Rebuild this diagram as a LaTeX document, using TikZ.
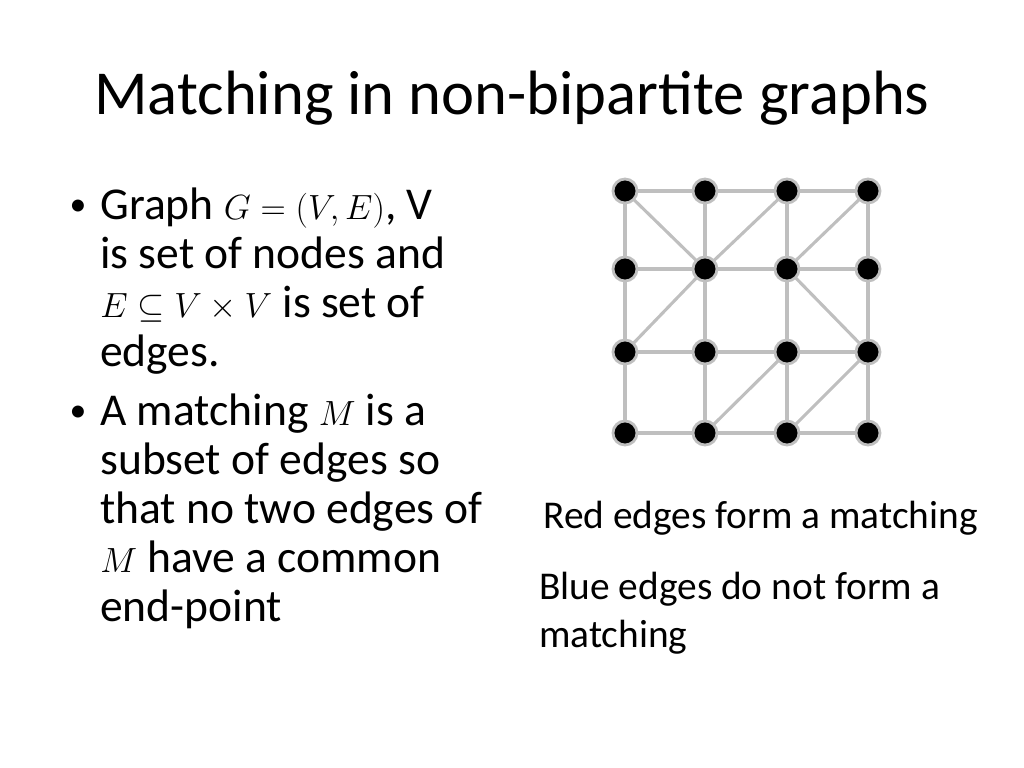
\documentclass[tikz,border=0pt]{standalone}
\usepackage{fontspec}
\setmainfont{Carlito}
\usepackage{amssymb}

\begin{document}
\begin{tikzpicture}[x=0.025cm, y=-0.025cm,
    vert/.style={circle, fill=black, draw=black!25, line width=2pt, minimum size=0.6cm, inner sep=0pt},
    edge/.style={draw=black!25, line width=2.2pt},
    body/.style={anchor=north west, align=left, inner sep=0pt, font=\fontsize{32.4}{34.7}\selectfont},
    note/.style={anchor=west, align=left, inner sep=0pt, font=\fontsize{28}{34}\selectfont}]
    \useasboundingbox (0,0) rectangle (1024,768);

    % Title and text
    \node[font=\fontsize{44.5}{50}\selectfont] (title) at (512,98) {Matching in non-bipartite graphs};
    \node[inner sep=0pt, font=\fontsize{24}{30}\selectfont] (b1) at (78,208) {•};
    \node[body] (t1) at (100,188) {Graph $G=(V,E)$, V\\ is set of nodes and\\ $E\subseteq V\times V$ is set of\\ edges.};
    \node[inner sep=0pt, font=\fontsize{24}{30}\selectfont] (b2) at (78,414) {•};
    \node[body] (t2) at (100,394) {A matching $M$ is a\\ subset of edges so\\ that no two edges of\\ $M$ have a common\\ end-point};
    \node[note] (red) at (543,518) {Red edges form a matching};
    \node[note, anchor=north west] (blue) at (539,572) {Blue edges do not form a\\ matching};

    % Graph nodes
    \foreach \r/\y in {1/191, 2/269, 3/352, 4/433}
        \foreach \c/\x in {1/625, 2/705, 3/787, 4/868}
            \coordinate (p\r\c) at (\x,\y);
    % Edges
    \foreach \r in {1,...,4} {
        \draw[edge] (p\r1) -- (p\r2) -- (p\r3) -- (p\r4);
        \draw[edge] (p1\r) -- (p2\r) -- (p3\r) -- (p4\r);
    }
    \draw[edge] (p11) -- (p22) -- (p31);
    \draw[edge] (p13) -- (p22);
    \draw[edge] (p14) -- (p23) -- (p34);
    \draw[edge] (p42) -- (p33);
    \draw[edge] (p43) -- (p34);
    \foreach \r in {1,...,4}
        \foreach \c in {1,...,4}
            \node[vert] (v\r\c) at (p\r\c) {};
\end{tikzpicture}
\end{document}
